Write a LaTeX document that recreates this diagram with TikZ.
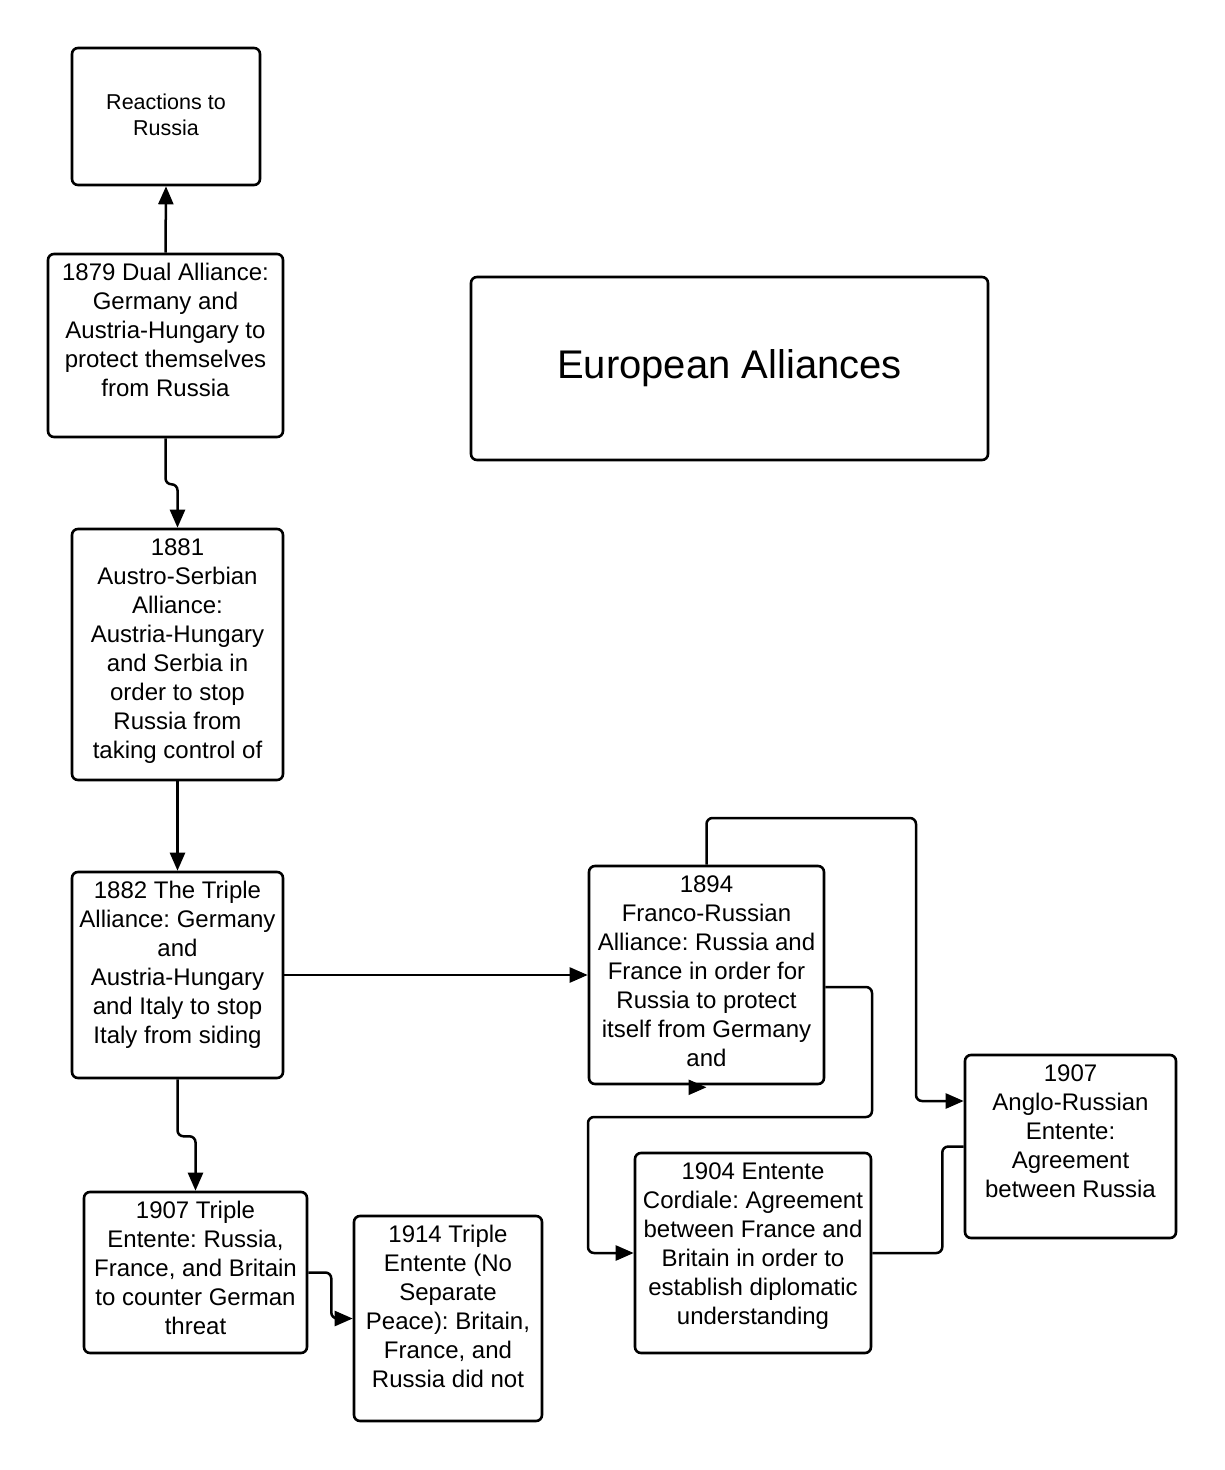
\documentclass[tikz,border=0pt]{standalone}
\usepackage{fontspec}
\setmainfont{Liberation Sans}
\usetikzlibrary{arrows.meta}
\frenchspacing

% text block that starts at the top of its box
\newcommand{\boxtext}[3]{\parbox[c][#2][t]{#1}{\centering\vspace*{6pt}\strut #3}}

\tikzset{
    card/.style={draw, line width=2.6pt, rounded corners=6pt, inner sep=0pt, font=\fontsize{24}{29}\selectfont},
    link/.style={line width=2.5pt, rounded corners=6pt},
    arr/.style={link, -{Triangle[length=18pt, width=15pt]}}
}

\begin{document}
\begin{tikzpicture}[x=1pt, y=-1pt]
    \useasboundingbox (0,0) rectangle (1224,1470);

    % Left column
    \node[card, minimum width=188pt, minimum height=137pt, align=center, font=\fontsize{21.5}{26}\selectfont] (react) at (166,116.5) {Reactions to\\Russia\vphantom{g}};
    \node[card] (dual) at (165.5,345.5) {\boxtext{235pt}{183pt}{1879 Dual Alliance:\\Germany and\\Austria-Hungary to\\protect themselves\\from Russia}};
    \node[card] (a1881) at (177.5,654.5) {\boxtext{211pt}{251pt}{1881\\Austro-Serbian\\Alliance:\\Austria-Hungary\\and Serbia in\\order to stop\\Russia from\\taking control of}};
    \node[card] (t1882) at (177.5,975) {\boxtext{211pt}{206pt}{1882 The Triple\\Alliance: Germany\\and\\Austria-Hungary\\and Italy to stop\\Italy from siding}};
    \node[card] (te1907) at (195.5,1272.5) {\boxtext{223pt}{161pt}{1907 Triple\\Entente: Russia,\\France, and Britain\\to counter German\\threat}};
    \node[card] (te1914) at (448,1318.5) {\boxtext{188pt}{205pt}{1914 Triple\\Entente (No\\Separate\\Peace): Britain,\\France, and\\Russia did not}};

    % Title
    \node[card, minimum width=517pt, minimum height=183pt, font=\fontsize{40}{48}\selectfont] (title) at (729.5,368.5) {European Alliances};

    % Right side
    \node[card] (f1894) at (706.5,975) {\boxtext{235pt}{218pt}{1894\\Franco-Russian\\Alliance: Russia and\\France in order for\\Russia to protect\\itself from Germany\\and}};
    \node[card] (ec1904) at (753,1253) {\boxtext{236pt}{200pt}{1904 Entente\\Cordiale: Agreement\\between France and\\Britain in order to\\establish diplomatic\\understanding}};
    \node[card] (ar1907) at (1070.5,1146.5) {\boxtext{211pt}{183pt}{1907\\Anglo-Russian\\Entente:\\Agreement\\between Russia}};

    \coordinate (topbend) at (916,818);
    \coordinate (lowbend) at (872,1117);
    \coordinate (leftbend) at (588,1117);

    % Connectors
    \draw[arr] (dual.north) -- (react.south);
    \draw[arr] (dual.south) -- ++(0,46) -| (a1881.north);
    \draw[arr] (a1881) -- (t1882);
    \draw[arr] (t1882.south) -- ++(0,57) -| (te1907.north);
    \draw[arr] (te1907.east) -- ++(23,0) |- (te1914.west);
    \draw[arr] (t1882) -- (f1894);
    \draw[arr] (f1894.north) |- (topbend) |- ([yshift=45.5pt]ar1907.west);
    \draw[arr] ([yshift=-12pt]f1894.east) -| (lowbend) -- (leftbend) |- (ec1904.west);
    \draw[link] (ec1904.east) -- ++(70,0) |- (ar1907.west);
    \draw[arr] ([xshift=-18pt, yshift=-2pt]f1894.south) -- ([yshift=-2pt]f1894.south);
\end{tikzpicture}
\end{document}
